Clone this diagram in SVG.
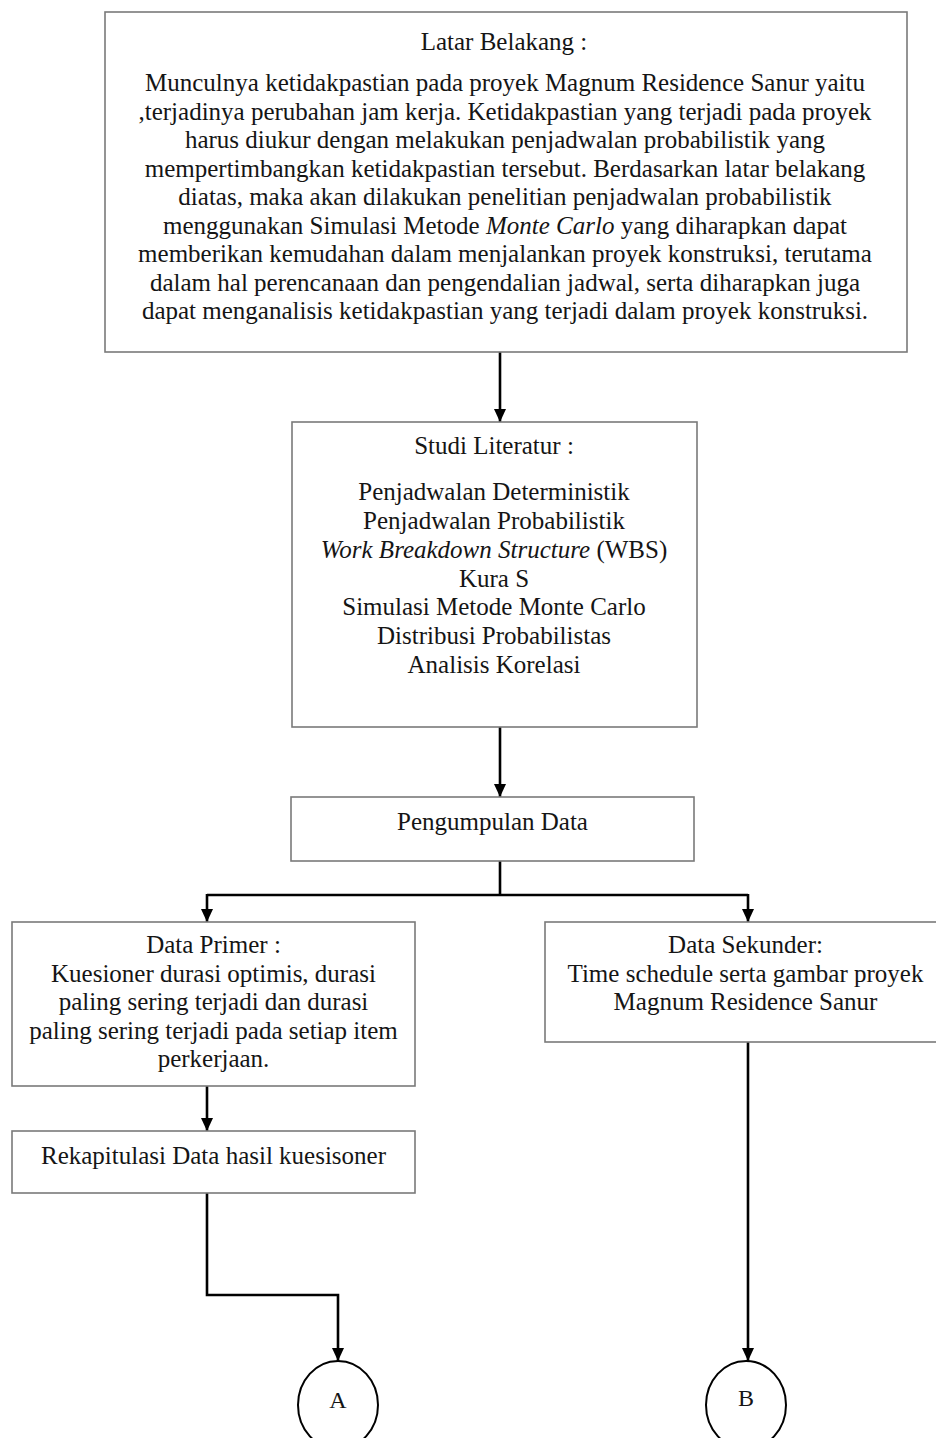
<svg xmlns="http://www.w3.org/2000/svg" width="936" height="1438" viewBox="0 0 936 1438">
  <style>
    .box { fill: #ffffff; stroke: #7a7a7a; stroke-width: 1.6; }
    .t { font-family: "Liberation Serif", "Times New Roman", serif; font-size: 25px; fill: #151515; text-anchor: middle; }
    .i { font-style: italic; }
    .wire { fill: none; stroke: #000000; stroke-width: 2.6; }
    .term { fill: #ffffff; stroke: #000000; stroke-width: 2; }
    .lbl { font-family: "Liberation Serif", "Times New Roman", serif; font-size: 24px; fill: #151515; text-anchor: middle; }
  </style>
  <defs>
    <!-- solid triangular arrowhead, tip at the line end -->
    <marker id="head" markerUnits="userSpaceOnUse" markerWidth="14" markerHeight="14" viewBox="0 0 14 14" refX="13" refY="7" orient="auto">
      <path d="M0,1 L13,7 L0,13 Z" fill="#000000"/>
    </marker>
  </defs>

  <rect width="936" height="1438" fill="#ffffff"/>

  <!-- connectors -->
  <g id="connectors">
    <path class="wire" d="M500,352 V422" marker-end="url(#head)"/>
    <path class="wire" d="M500,727 V797" marker-end="url(#head)"/>
    <path class="wire" d="M500,861 V895"/>
    <path class="wire" d="M207,895 H748"/>
    <path class="wire" d="M207,894 V922" marker-end="url(#head)"/>
    <path class="wire" d="M748,894 V922" marker-end="url(#head)"/>
    <path class="wire" d="M207,1086 V1131" marker-end="url(#head)"/>
    <path class="wire" d="M207,1193 V1295 H338 V1361" marker-end="url(#head)"/>
    <path class="wire" d="M748,1042 V1361" marker-end="url(#head)"/>
  </g>

  <g id="latar-belakang">
    <rect class="box" x="105" y="12" width="802" height="340"/>
    <text class="t" x="504" y="50">Latar Belakang :</text>
    <text class="t" x="505" y="91">Munculnya ketidakpastian pada proyek Magnum Residence Sanur yaitu</text>
    <text class="t" x="505" y="119.5">,terjadinya perubahan jam kerja. Ketidakpastian yang terjadi pada proyek</text>
    <text class="t" x="505" y="148">harus diukur dengan melakukan penjadwalan probabilistik yang</text>
    <text class="t" x="505" y="176.5">mempertimbangkan ketidakpastian tersebut. Berdasarkan latar belakang</text>
    <text class="t" x="505" y="205">diatas, maka akan dilakukan penelitian penjadwalan probabilistik</text>
    <text class="t" x="505" y="233.5">menggunakan Simulasi Metode <tspan class="i">Monte Carlo</tspan> yang diharapkan dapat</text>
    <text class="t" x="505" y="262">memberikan kemudahan dalam menjalankan proyek konstruksi, terutama</text>
    <text class="t" x="505" y="290.5">dalam hal perencanaan dan pengendalian jadwal, serta diharapkan juga</text>
    <text class="t" x="505" y="319">dapat menganalisis ketidakpastian yang terjadi dalam proyek konstruksi.</text>
  </g>

  <g id="studi-literatur">
    <rect class="box" x="292" y="422" width="405" height="305"/>
    <text class="t" x="494" y="454">Studi Literatur :</text>
    <text class="t" x="494" y="500">Penjadwalan Deterministik</text>
    <text class="t" x="494" y="529">Penjadwalan Probabilistik</text>
    <text class="t" x="494" y="558"><tspan class="i">Work Breakdown Structure</tspan> (WBS)</text>
    <text class="t" x="494" y="587">Kura S</text>
    <text class="t" x="494" y="615">Simulasi Metode Monte Carlo</text>
    <text class="t" x="494" y="644">Distribusi Probabilistas</text>
    <text class="t" x="494" y="673">Analisis Korelasi</text>
  </g>

  <g id="pengumpulan-data">
    <rect class="box" x="291" y="797" width="403" height="64"/>
    <text class="t" x="492.5" y="830">Pengumpulan Data</text>
  </g>

  <g id="data-primer">
    <rect class="box" x="12" y="922" width="403" height="164"/>
    <text class="t" x="213.5" y="953">Data Primer :</text>
    <text class="t" x="213.5" y="982">Kuesioner durasi optimis, durasi</text>
    <text class="t" x="213.5" y="1010">paling sering terjadi dan durasi</text>
    <text class="t" x="213.5" y="1039">paling sering terjadi pada setiap item</text>
    <text class="t" x="213.5" y="1067">perkerjaan.</text>
  </g>

  <g id="data-sekunder">
    <rect class="box" x="545" y="922" width="395" height="120"/>
    <text class="t" x="745.5" y="953">Data Sekunder:</text>
    <text class="t" x="745.5" y="982">Time schedule serta gambar proyek</text>
    <text class="t" x="745.5" y="1010">Magnum Residence Sanur</text>
  </g>

  <g id="rekapitulasi">
    <rect class="box" x="12" y="1131" width="403" height="62"/>
    <text class="t" x="213.5" y="1164">Rekapitulasi Data hasil kuesisoner</text>
  </g>

  <g id="connector-a">
    <ellipse class="term" cx="338" cy="1405" rx="40" ry="44"/>
    <text class="lbl" x="338" y="1408">A</text>
  </g>

  <g id="connector-b">
    <ellipse class="term" cx="746" cy="1405" rx="40" ry="44"/>
    <text class="lbl" x="746" y="1406">B</text>
  </g>
</svg>
